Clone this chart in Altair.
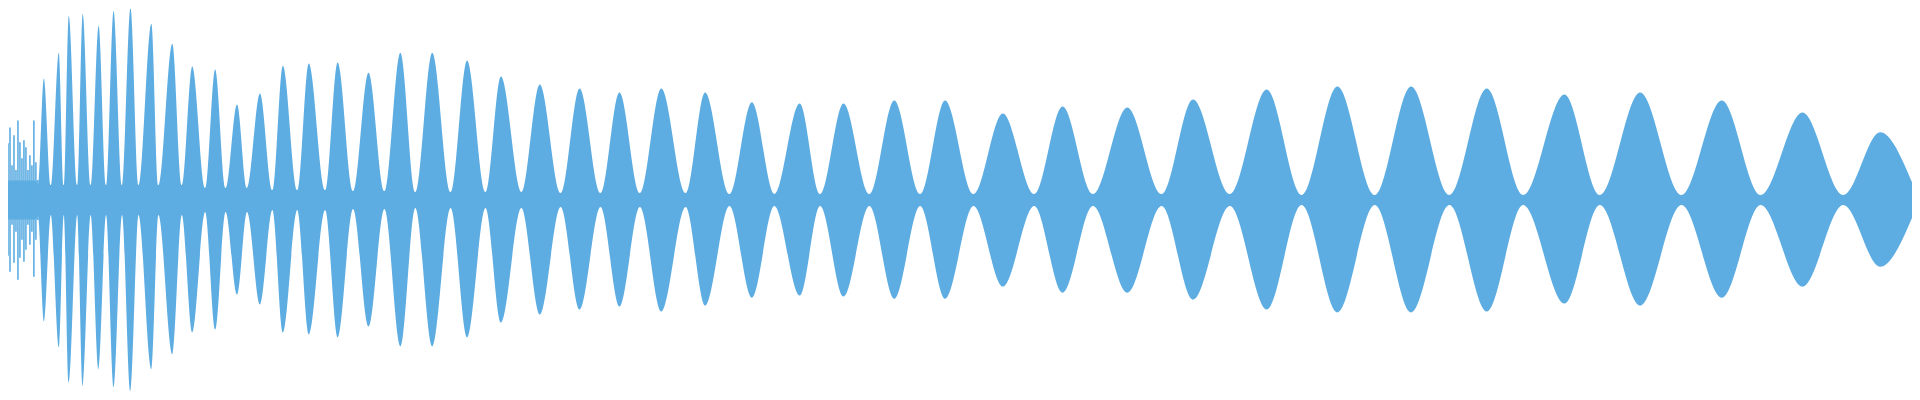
import altair as alt
import pandas as pd

# Envelope of the waveform: time (s), upper and lower amplitude (normalised)
env_t = [0.0, 0.18, 0.19, 0.22, 0.255, 0.295, 0.32, 0.345, 0.3875, 0.415, 0.455, 0.495,
         0.5325, 0.57, 0.6125, 0.655, 0.695, 0.76, 0.795, 0.865, 0.9125, 0.965,
         1.03, 1.08, 1.1325, 1.19, 1.24, 1.305, 1.3675, 1.42, 1.4925, 1.55, 1.6325,
         1.695, 1.7725, 1.85, 1.93, 2.01, 2.085, 2.17, 2.2625, 2.345, 2.4375, 2.515,
         2.6175, 2.71, 2.815, 2.91, 3.015, 3.11, 3.2125, 3.32, 3.4425, 3.54, 3.6625,
         3.775, 3.8875, 4.015, 4.1175, 4.235, 4.365, 4.49, 4.62, 4.745, 4.8875, 5.035,
         5.1925, 5.335, 5.4875, 5.66, 5.8325, 5.99, 6.175, 6.36, 6.535, 6.715, 6.9025,
         7.085, 7.2775, 7.465, 7.6475, 7.855, 8.0325, 8.235, 8.4425, 8.645, 8.84, 9.05,
         9.255, 9.44, 9.6]
env_top = [0.10, 0.10, 0.077, 0.626, 0.077, 0.759, 0.077, 0.949, 0.077, 0.959, 0.077, 0.897,
           0.077, 0.974, 0.077, 0.990, 0.077, 0.908, 0.077, 0.805, 0.077, 0.687,
           0.062, 0.672, 0.062, 0.492, 0.062, 0.549, 0.051, 0.692, 0.051, 0.703, 0.051,
           0.708, 0.046, 0.656, 0.046, 0.759, 0.041, 0.759, 0.041, 0.718, 0.041, 0.636,
           0.041, 0.595, 0.036, 0.574, 0.036, 0.554, 0.036, 0.574, 0.036, 0.554, 0.031,
           0.503, 0.031, 0.497, 0.031, 0.497, 0.031, 0.513, 0.031, 0.513, 0.031, 0.446,
           0.031, 0.482, 0.031, 0.477, 0.031, 0.518, 0.031, 0.569, 0.026, 0.585, 0.026,
           0.585, 0.026, 0.574, 0.026, 0.544, 0.026, 0.554, 0.026, 0.513, 0.026, 0.451,
           0.026, 0.349, 0.092]
env_bottom = [-0.10, -0.10, -0.077, -0.626, -0.077, -0.759, -0.077, -0.938, -0.077, -0.959, -0.077, -0.872,
              -0.077, -0.964, -0.077, -0.985, -0.077, -0.872, -0.077, -0.795, -0.077, -0.682,
              -0.062, -0.667, -0.062, -0.487, -0.062, -0.538, -0.051, -0.682, -0.051, -0.692, -0.051,
              -0.708, -0.046, -0.651, -0.046, -0.754, -0.041, -0.754, -0.041, -0.708, -0.041, -0.631,
              -0.041, -0.590, -0.036, -0.564, -0.036, -0.549, -0.036, -0.574, -0.036, -0.544, -0.031,
              -0.503, -0.031, -0.492, -0.031, -0.497, -0.031, -0.508, -0.031, -0.508, -0.031, -0.446,
              -0.031, -0.477, -0.031, -0.477, -0.031, -0.513, -0.031, -0.564, -0.026, -0.579, -0.026,
              -0.579, -0.026, -0.574, -0.026, -0.533, -0.026, -0.544, -0.026, -0.503, -0.026, -0.446,
              -0.026, -0.344, -0.092]

# Spiky onset at the start of the recording
spike_t = [0.0, 0.01, 0.02, 0.03, 0.04, 0.05, 0.06, 0.07, 0.08, 0.09, 0.10,
           0.11, 0.12, 0.13, 0.14, 0.15, 0.16, 0.17, 0.18, 0.19]
spike_top = [0.267, 0.405, 0.256, 0.344, 0.292, 0.374, 0.179, 0.333, 0.154, 0.41, 0.297,
             0.215, 0.308, 0.272, 0.154, 0.231, 0.179, 0.41, 0.195, 0.103]
spike_bottom = [-0.256, -0.40, -0.205, -0.333, -0.287, -0.369, -0.128, -0.323, -0.164, -0.41, -0.297,
                -0.205, -0.318, -0.256, -0.128, -0.231, -0.164, -0.395, -0.205, -0.103]

COLOR = "#5DADE2"

env = pd.DataFrame({"t": env_t, "top": env_top, "bottom": env_bottom})
spk = pd.DataFrame({"t": spike_t, "top": spike_top, "bottom": spike_bottom})

xs = alt.Scale(domain=[0.04, 9.6], nice=False, zero=False)
ys = alt.Scale(domain=[-1.025641, 0.984615], nice=False, zero=False)

area = alt.Chart(env).mark_area(interpolate="monotone", orient="vertical", color=COLOR,
                                opacity=1, clip=True).encode(
    x=alt.X("t:Q", scale=xs, axis=None),
    y=alt.Y("top:Q", scale=ys, axis=None),
    y2="bottom:Q",
)

spikes = alt.Chart(spk).mark_rule(color=COLOR, strokeWidth=1.6, opacity=1, clip=True).encode(
    x=alt.X("t:Q", scale=xs, axis=None),
    y=alt.Y("top:Q", scale=ys, axis=None),
    y2="bottom:Q",
)

chart = alt.layer(area, spikes).properties(
    width=1912, height=392, padding=0, autosize=alt.AutoSizeParams(type="none"),
    background="white",
).configure_view(stroke=None)

chart.save("out.html", embed_options={"renderer": "svg", "actions": False})
